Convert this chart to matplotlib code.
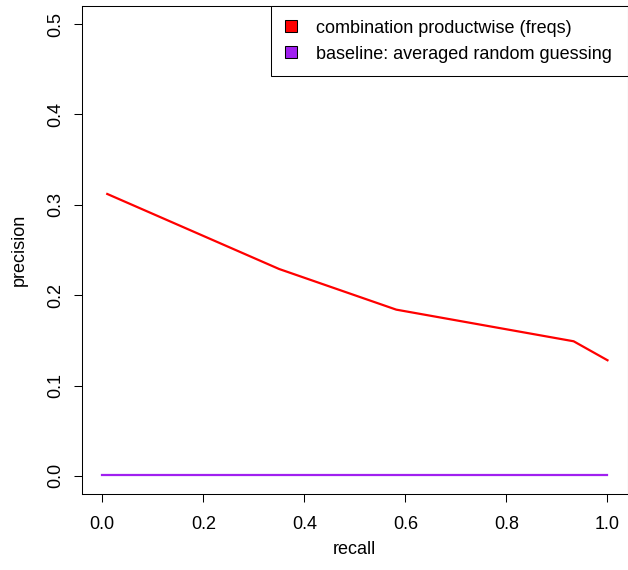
import matplotlib
matplotlib.use("Agg")
import matplotlib.pyplot as plt
from matplotlib.patches import Patch

plt.rcParams['font.family'] = ['Liberation Sans', 'DejaVu Sans']
plt.rcParams['font.size'] = 13

# precision/recall curve
recall = [0.01, 0.35, 0.582, 0.933, 1.0]
precision = [0.312, 0.229, 0.184, 0.149, 0.128]

baseline_x = [0.0, 1.0]
baseline_y = [0.0012, 0.0012]

labels = ["combination productwise (freqs)", "baseline: averaged random guessing"]
colors = ["#FF0000", "#A020F0"]

xticks = [0.0, 0.2, 0.4, 0.6, 0.8, 1.0]
yticks = [0.0, 0.1, 0.2, 0.3, 0.4, 0.5]

fig = plt.figure(figsize=(6.28, 5.70), dpi=100)
ax = fig.add_axes([82 / 628, 76 / 570, 545.7 / 628, 488 / 570])

ax.plot(recall, precision, color=colors[0], lw=1.6)
ax.plot(baseline_x, baseline_y, color=colors[1], lw=1.6)

ax.set_xlim(-0.04, 1.04)
ax.set_ylim(-0.02, 0.52)
ax.set_xticks(xticks)
ax.set_xticklabels(["%.1f" % v for v in xticks])
ax.set_yticks(yticks)
ax.set_yticklabels(["%.1f" % v for v in yticks], rotation=90, va="center")
ax.tick_params(direction="out", length=6, width=0.75)
ax.tick_params(axis="x", pad=9.5)
ax.tick_params(axis="y", pad=7)
for sp in ax.spines.values():
    sp.set_linewidth(0.75)

ax.set_xlabel("recall", labelpad=6)
ax.set_ylabel("precision", labelpad=14)

handles = [Patch(facecolor=c, edgecolor="black", lw=0.75) for c in colors]
leg = ax.legend(handles, labels, loc="upper left",
                bbox_to_anchor=(189 / 545.7, 0, 1 - 189 / 545.7, 1),
                mode="expand", borderaxespad=0, fancybox=False,
                edgecolor="black", framealpha=1, handlelength=0.7,
                handleheight=0.62, handletextpad=1.05, labelspacing=0.5,
                borderpad=0.75)
leg.get_frame().set_linewidth(0.75)

fig.savefig("out.png", dpi=100)
